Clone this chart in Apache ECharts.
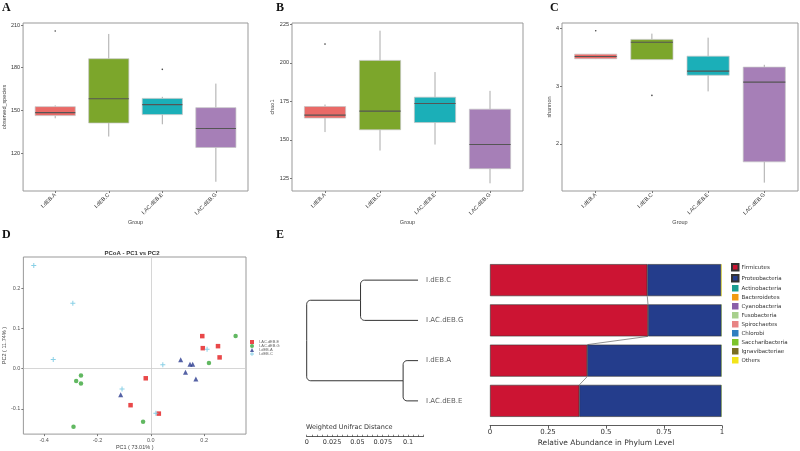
<!DOCTYPE html>
<html>
<head>
<meta charset="utf-8">
<script src="https://cdn.jsdelivr.net/npm/echarts@6/dist/echarts.min.js"></script>
<style>
  html, body { margin: 0; padding: 0; background: #fff; }
  #main { width: 800px; height: 451px; }
</style>
</head>
<body>
<div id="main"></div>
<script>
// 分组
var groups = ['I.dEB.A', 'I.dEB.C', 'I.AC.dEB.E', 'I.AC.dEB.G'];
var boxColors = ['#EA6A67', '#7CA62B', '#1BAFB8', '#A67FB7'];

// [min, Q1, median, Q3, max]
var observedBox = [[144.4, 146.3, 148.4, 152.6, 153.5], [131.6, 141.1, 158.1, 186.3, 203.7], [140.2, 147.0, 154.0, 158.4, 159.5], [99.8, 123.9, 137.2, 151.9, 168.8]];
// [group index, value]
var observedOut = [[0, 205.8], [2, 178.8]];
var chaoBox = [[155.0, 164.1, 166.0, 171.6, 172.9], [143.0, 156.5, 168.6, 201.6, 220.9], [146.9, 161.2, 173.6, 177.7, 194.0], [121.7, 131.2, 146.9, 169.9, 181.8]];
var chaoOut = [[0, 212.2]];
var shannonBox = [[3.47, 3.475, 3.515, 3.555, 3.56], [3.46, 3.46, 3.76, 3.81, 3.91], [2.91, 3.19, 3.26, 3.52, 3.84], [1.33, 1.69, 3.07, 3.33, 3.37]];
var shannonOut = [[0, 3.96], [1, 2.84]];

// PCoA
var pcoaE = [[0.193, 0.081], [0.195, 0.051], [0.252, 0.056], [0.258, 0.028], [-0.019, -0.024], [-0.076, -0.091], [0.030, -0.112]];
var pcoaG = [[0.318, 0.081], [0.218, 0.014], [-0.262, -0.017], [-0.280, -0.031], [-0.262, -0.037], [-0.029, -0.132], [-0.290, -0.145]];
var pcoaA = [[0.112, 0.022], [0.147, 0.011], [0.157, 0.011], [0.130, -0.009], [0.169, -0.026], [-0.113, -0.065]];
var pcoaC = [[-0.439, 0.257], [-0.2925, 0.163], [-0.366, 0.023], [0.045, 0.010], [0.211, 0.048], [-0.108, -0.051], [0.019, -0.111]];

// 聚类树 + 门水平丰度
var sampleOrder = ['I.dEB.C', 'I.AC.dEB.G', 'I.dEB.A', 'I.AC.dEB.E'];
var leafDist = 0.1098;
var clusterNodes = [['I.dEB.C', 'I.AC.dEB.G', 0.0531], ['I.dEB.A', 'I.AC.dEB.E', 0.0951]];
var phyla = ['Firmicutes', 'Proteobacteria', 'Actinobacteria', 'Bacteroidetes', 'Cyanobacteria', 'Fusobacteria',
  'Spirochaetes', 'Chlorobi', 'Saccharibacteria', 'Ignavibacteriae', 'Others'];
var phylaColors = ['#CC1433', '#243D8C', '#1A9C90', '#F29A12', '#8B5FA8', '#A8D08D', '#E88484', '#2F7FC0', '#7DC42A', '#7A6E22', '#F2E41A'];
var abundance = [
  [0.678, 0.681, 0.419, 0.385],
  [0.318, 0.317, 0.579, 0.613],
  [0.001, 0.001, 0.001, 0.001],
  [0.001, 0.000, 0.000, 0.000],
  [0.000, 0.000, 0.000, 0.000],
  [0.000, 0.000, 0.000, 0.000],
  [0.000, 0.000, 0.000, 0.000],
  [0.000, 0.000, 0.000, 0.000],
  [0.000, 0.000, 0.000, 0.000],
  [0.000, 0.000, 0.000, 0.000],
  [0.002, 0.001, 0.001, 0.001]
];
var abundanceTicks = [0, 0.25, 0.5, 0.75, 1];

var sans = 'Liberation Sans';
var verd = 'DejaVu Sans';

function renderBox(params, api) {
  var x = api.value(0);
  var lo = api.coord([x, api.value(1)]);
  var q1 = api.coord([x, api.value(2)]);
  var md = api.coord([x, api.value(3)]);
  var q3 = api.coord([x, api.value(4)]);
  var hi = api.coord([x, api.value(5)]);
  var w = api.size([0.75, 0])[0];
  var c = boxColors[params.dataIndex];
  return {
    type: 'group',
    children: [
      { type: 'line', shape: { x1: lo[0], y1: lo[1], x2: q1[0], y2: q1[1] }, style: { stroke: '#aaaaaa', lineWidth: 1 } },
      { type: 'line', shape: { x1: q3[0], y1: q3[1], x2: hi[0], y2: hi[1] }, style: { stroke: '#aaaaaa', lineWidth: 1 } },
      { type: 'rect', shape: { x: q3[0] - w / 2, y: q3[1], width: w, height: Math.max(q1[1] - q3[1], 1) }, style: { fill: c, stroke: '#c4c4c4', lineWidth: 0.7 } },
      { type: 'line', shape: { x1: md[0] - w / 2, y1: md[1], x2: md[0] + w / 2, y2: md[1] }, style: { stroke: '#555555', lineWidth: 1.1 } }
    ]
  };
}

function boxX(gi) {
  return {
    type: 'value', gridIndex: gi, min: 0.4, max: 4.6,
    name: 'Group', nameLocation: 'middle', nameGap: 26,
    nameTextStyle: { fontSize: 5.5, color: '#444', fontFamily: sans },
    axisLine: { show: false, onZero: false }, splitLine: { show: false },
    axisTick: { show: true, length: 2, customValues: [1, 2, 3, 4], lineStyle: { color: '#777' } },
    axisLabel: {
      customValues: [1, 2, 3, 4], rotate: 45, fontSize: 5.5, color: '#333', fontFamily: sans, margin: 3,
      formatter: function (v) { return groups[Math.round(v) - 1]; }
    }
  };
}
function boxY(gi, mn, mx, ticks, name, gap) {
  return {
    type: 'value', gridIndex: gi, min: mn, max: mx,
    name: name, nameLocation: 'middle', nameGap: gap,
    nameTextStyle: { fontSize: 5.5, color: '#444', fontFamily: sans },
    axisLine: { show: false, onZero: false }, splitLine: { show: false },
    axisTick: { show: true, length: 2, customValues: ticks, lineStyle: { color: '#777' } },
    axisLabel: { customValues: ticks, fontSize: 5.5, color: '#333', fontFamily: sans, margin: 3 }
  };
}
function boxSeries(gi, box) {
  return {
    type: 'custom', xAxisIndex: gi, yAxisIndex: gi, renderItem: renderBox,
    encode: { x: 0, y: [1, 2, 3, 4, 5] },
    data: box.map(function (b, i) { return [i + 1].concat(b); })
  };
}
function outSeries(gi, out) {
  return { type: 'scatter', xAxisIndex: gi, yAxisIndex: gi, symbolSize: 1.6, itemStyle: { color: '#111' }, data: out.map(function (o) { return [o[0] + 1, o[1]]; }) };
}

// dendrogram edges [parentDist, parentRow, childDist, childRow]
var rowOf = function (n) { return sampleOrder.indexOf(n); };
var clusterRow = clusterNodes.map(function (c) { return (rowOf(c[0]) + rowOf(c[1])) / 2; });
var edges = [];
clusterNodes.forEach(function (c, k) {
  edges.push([c[2], clusterRow[k], leafDist, rowOf(c[0])]);
  edges.push([c[2], clusterRow[k], leafDist, rowOf(c[1])]);
});
var rootRow = (clusterRow[0] + clusterRow[1]) / 2;
clusterNodes.forEach(function (c, k) { edges.push([0, rootRow, c[2], clusterRow[k]]); });

function renderEdge(params, api) {
  var p0 = api.coord([api.value(0), api.value(1)]);
  var pc = api.coord([api.value(0), api.value(3)]);
  var p2 = api.coord([api.value(2), api.value(3)]);
  var s = pc[1] > p0[1] ? 1 : -1;
  var r = Math.min(4, Math.abs(pc[1] - p0[1]));
  var pts = [p0];
  for (var j = 0; j <= 6; j++) {
    var t = j / 6 * Math.PI / 2;
    pts.push([pc[0] + r - r * Math.cos(t), pc[1] - s * r + s * r * Math.sin(t)]);
  }
  pts.push(p2);
  return { type: 'polyline', shape: { points: pts }, style: { stroke: '#333', lineWidth: 1, fill: null } };
}

// cumulative Firmicutes boundaries between neighbouring bars
var links = [];
for (var i = 0; i < sampleOrder.length - 1; i++) {
  links.push([abundance[0][i], i, abundance[0][i + 1], i + 1]);
}
function renderLink(params, api) {
  var a = api.coord([api.value(0), api.value(1)]);
  var b = api.coord([api.value(2), api.value(3)]);
  return { type: 'line', shape: { x1: a[0], y1: a[1] + 16, x2: b[0], y2: b[1] - 16 }, style: { stroke: '#777', lineWidth: 0.8 } };
}

var pcoaTicksX = [-0.4, -0.2, 0, 0.2];
var pcoaTicksY = [-0.1, 0, 0.1, 0.2];

var letter = function (t, l, tp) {
  return { text: t, left: l, top: tp, padding: 0, textStyle: { fontFamily: 'Liberation Serif', fontWeight: 'bold', fontSize: 12, color: '#111' } };
};

var series = [
  boxSeries(0, observedBox), outSeries(0, observedOut),
  boxSeries(1, chaoBox), outSeries(1, chaoOut),
  boxSeries(2, shannonBox), outSeries(2, shannonOut),
  {
    name: 'I.AC.dEB.E', type: 'scatter', xAxisIndex: 3, yAxisIndex: 3, symbol: 'rect', symbolSize: 4.5,
    itemStyle: { color: '#E41A1C' }, data: pcoaE,
    markLine: {
      silent: true, symbol: 'none', label: { show: false },
      lineStyle: { color: '#cccccc', type: 'solid', width: 0.8 },
      data: [{ xAxis: 0 }, { yAxis: 0 }]
    }
  },
  { name: 'I.AC.dEB.G', type: 'scatter', xAxisIndex: 3, yAxisIndex: 3, symbol: 'circle', symbolSize: 4.5, itemStyle: { color: '#3AA63A' }, data: pcoaG },
  { name: 'I.dEB.A', type: 'scatter', xAxisIndex: 3, yAxisIndex: 3, symbol: 'triangle', symbolSize: 5, itemStyle: { color: '#2A3B8F' }, data: pcoaA },
  { name: 'I.dEB.C', type: 'scatter', xAxisIndex: 3, yAxisIndex: 3, symbol: 'path://M4,0H6V4H10V6H6V10H4V6H0V4H4Z', symbolSize: 5, itemStyle: { color: '#6CC4E0' }, data: pcoaC },
  { type: 'custom', xAxisIndex: 4, yAxisIndex: 4, renderItem: renderEdge, encode: { x: [0, 2], y: [1, 3] }, data: edges, silent: true },
  {
    type: 'scatter', xAxisIndex: 4, yAxisIndex: 4, symbolSize: 0.1,
    data: sampleOrder.map(function (n, k) { return [leafDist, k, n]; }),
    label: { show: true, position: 'right', distance: 8, fontSize: 7, fontFamily: verd, color: '#333', formatter: function (p) { return p.value[2]; } }
  },
  { type: 'custom', xAxisIndex: 5, yAxisIndex: 5, renderItem: renderLink, encode: { x: [0, 2], y: [1, 3] }, data: links, silent: true, z: 1 }
];
phyla.forEach(function (p, k) {
  series.push({
    name: p, type: 'bar', stack: 'phylum', xAxisIndex: 5, yAxisIndex: 5, barWidth: 32,
    itemStyle: { color: phylaColors[k], borderColor: '#333', borderWidth: k < 2 ? 0.6 : 0 },
    data: abundance[k], z: 2
  });
});

var option = {
  animation: false,
  backgroundColor: '#fff',
  title: [
    letter('A', 2, 2), letter('B', 276, 2), letter('C', 550, 2), letter('D', 2, 229), letter('E', 276, 229),
    { text: 'PCoA - PC1 vs PC2', left: 132, top: 250, padding: 0, textAlign: 'center', textStyle: { fontSize: 6, fontWeight: 'bold', color: '#333', fontFamily: sans } },
    { text: 'Weighted Unifrac Distance', left: 306, top: 424, padding: 0, textStyle: { fontSize: 6.5, fontWeight: 'normal', color: '#333', fontFamily: verd } }
  ],
  legend: [
    {
      data: ['I.AC.dEB.E', 'I.AC.dEB.G', 'I.dEB.A', 'I.dEB.C'], orient: 'vertical', left: 250, top: 340, padding: 0,
      itemWidth: 4, itemHeight: 4, itemGap: 0, textStyle: { fontSize: 4, color: '#666', fontFamily: sans }
    },
    {
      data: phyla, orient: 'vertical', left: 731, top: 263, padding: 0, icon: 'rect',
      itemWidth: 6.5, itemHeight: 6.5, itemGap: 2.5, textStyle: { fontSize: 5.5, color: '#333', fontFamily: verd, padding: [0, 0, 0, -2] }
    }
  ],
  grid: [
    { left: 18, top: 23, width: 230, height: 168, show: true, borderColor: '#999', borderWidth: 1 },
    { left: 292, top: 23, width: 231, height: 168, show: true, borderColor: '#999', borderWidth: 1 },
    { left: 562, top: 23, width: 236, height: 168, show: true, borderColor: '#999', borderWidth: 1 },
    { left: 18, top: 257, width: 228, height: 181, show: true, borderColor: '#999', borderWidth: 1 },
    { left: 306.7, top: 260, width: 116.6, height: 161 },
    { left: 490, top: 260, width: 232, height: 161 }
  ],
  xAxis: [
    boxX(0), boxX(1), boxX(2),
    {
      type: 'value', gridIndex: 3, min: -0.478, max: 0.357,
      name: 'PC1 ( 73.01% )', nameLocation: 'middle', nameGap: 9,
      nameTextStyle: { fontSize: 5.5, color: '#444', fontFamily: sans },
      axisLine: { show: false, onZero: false }, splitLine: { show: false },
      axisTick: { show: true, length: 2, customValues: pcoaTicksX, lineStyle: { color: '#777' } },
      axisLabel: { customValues: pcoaTicksX, fontSize: 5.5, color: '#555', fontFamily: sans, margin: 3, formatter: function (v) { return v.toFixed(1); } }
    },
    {
      type: 'value', gridIndex: 4, min: 0, max: 0.115, interval: 0.005, offset: 15.7,
      axisLine: { show: true, onZero: false, lineStyle: { color: '#333', width: 0.8 } }, splitLine: { show: false },
      axisTick: { show: true, inside: true, length: 2, lineStyle: { color: '#333', width: 0.6 } },
      axisLabel: { customValues: [0, 0.025, 0.05, 0.075, 0.1], fontSize: 6.5, color: '#333', fontFamily: verd, margin: 2, formatter: function (v) { return String(v); } }
    },
    {
      type: 'value', gridIndex: 5, min: 0, max: 1, offset: 4.7,
      name: 'Relative Abundance in Phylum Level', nameLocation: 'middle', nameGap: 13,
      nameTextStyle: { fontSize: 7.5, color: '#333', fontFamily: verd },
      axisLine: { show: true, onZero: false, lineStyle: { color: '#333', width: 0.8 } }, splitLine: { show: false },
      axisTick: { show: true, length: 3, customValues: abundanceTicks, lineStyle: { color: '#333', width: 0.8 } },
      axisLabel: { customValues: abundanceTicks, fontSize: 7, color: '#333', fontFamily: verd, margin: 3, formatter: function (v) { return String(v); } }
    }
  ],
  yAxis: [
    boxY(0, 93.3, 211.4, [120, 150, 180, 210], 'observed_species', 12),
    boxY(1, 116.7, 225.9, [125, 150, 175, 200, 225], 'chao1', 13),
    boxY(2, 1.185, 4.094, [2, 3, 4], 'shannon', 9),
    {
      type: 'value', gridIndex: 3, min: -0.163, max: 0.278,
      name: 'PC2 ( 11.74% )', nameLocation: 'middle', nameGap: 13,
      nameTextStyle: { fontSize: 5.5, color: '#444', fontFamily: sans },
      axisLine: { show: false, onZero: false }, splitLine: { show: false },
      axisTick: { show: true, length: 2, customValues: pcoaTicksY, lineStyle: { color: '#777' } },
      axisLabel: { customValues: pcoaTicksY, fontSize: 5.5, color: '#555', fontFamily: sans, margin: 3, formatter: function (v) { return v.toFixed(1); } }
    },
    { type: 'value', gridIndex: 4, min: -0.5, max: 3.5, inverse: true, show: false },
    { type: 'category', gridIndex: 5, data: sampleOrder, inverse: true, show: false }
  ],
  series: series
};

var myChart = echarts.init(document.getElementById('main'));
myChart.setOption(option);
</script>
</body>
</html>
